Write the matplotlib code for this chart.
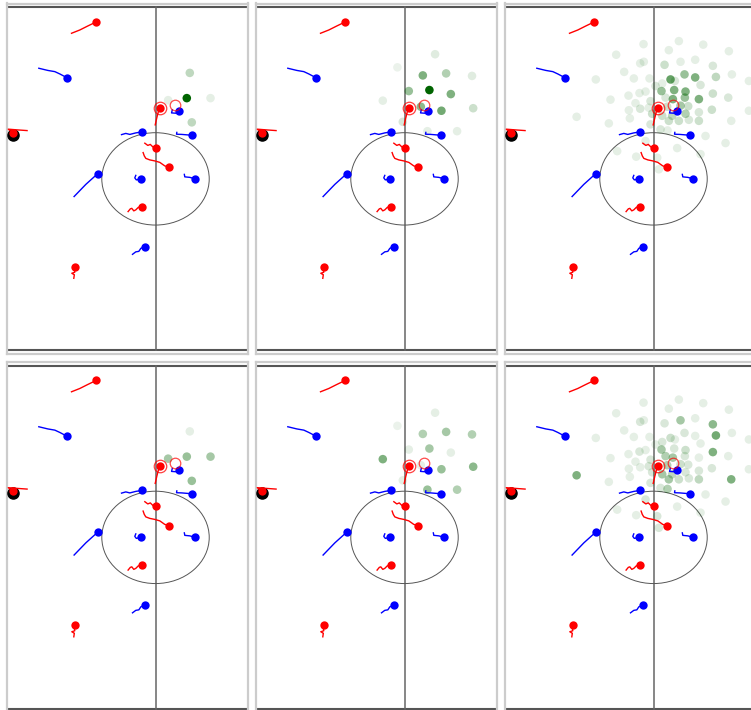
import matplotlib
matplotlib.use("Agg")
import matplotlib.pyplot as plt
from matplotlib.patches import Circle
from matplotlib.colors import to_rgba

# ---------------------------------------------------------------------------
# Tracking snapshot (metres, origin at the centre spot, y towards top touchline)
# Each trail lists older positions first; the last point is the current spot.
# ---------------------------------------------------------------------------
red_trails_x = [
    [-14.31, -12.90, -11.53, -10.10],
    [-0.05, 0.22, 0.48, 0.73],
    [-1.82, -1.31, -0.89, -0.46, 0.05],
    [-2.11, -1.91, -1.65, -0.97, -0.12, 0.73, 1.58, 2.32],
    [-4.67, -4.29, -4.04, -3.70, -3.36, -2.93, -2.28],
    [-13.92, -13.83, -14.26, -13.75, -13.83, -13.70],
    [-21.88, -23.46, -25.08, -24.36],
]
red_trails_y = [
    [28.85, 29.50, 30.30, 31.10],
    [10.70, 12.10, 13.30, 14.10],
    [7.07, 6.63, 6.83, 6.34, 6.14],
    [5.21, 4.55, 4.06, 3.76, 3.56, 3.27, 2.57, 2.32],
    [-6.48, -5.94, -5.84, -6.34, -6.14, -5.64, -5.54],
    [-19.70, -19.00, -18.70, -18.50, -18.00, -17.40],
    [9.57, 9.70, 9.85, 9.11],
]
blue_trails_x = [
    [-19.88, -18.35, -17.15, -16.30, -15.11],
    [2.86, 2.73, 3.46, 4.02],
    [-5.79, -5.06, -4.38, -3.36, -2.28],
    [3.63, 3.58, 4.48, 5.50, 6.30],
    [-13.87, -11.87, -9.83],
    [-3.36, -3.53, -3.27, -2.45],
    [4.91, 4.99, 5.84, 6.81],
    [-3.92, -3.36, -2.84, -2.50, -1.77],
]
blue_trails_y = [
    [21.92, 21.49, 21.25, 20.79, 20.06],
    [13.66, 13.07, 13.01, 13.41],
    [8.77, 9.01, 8.81, 9.11, 9.31],
    [9.21, 8.85, 8.81, 8.71, 8.65],
    [-3.50, -1.09, 1.05],
    [0.69, 0.20, -0.20, 0.00],
    [0.89, 0.40, 0.30, 0.00],
    [-14.95, -14.46, -14.36, -13.76, -13.41],
]
ball_x, ball_y = -24.20, 8.75
ring_x = [0.73, 3.30]
ring_y = [14.10, 14.65]

# Candidate positions, three sets (coarse, medium, fine)
cand_small_x = [5.84, 5.33, 9.37, 2.15, 6.18]
cand_small_y = [21.0, 16.0, 16.0, 15.6, 11.2]

cand_mid_x = [5.21, -1.21, 3.12, 7.09, 11.50, 0.73, 4.24, 7.89, -3.70, 2.78,
              6.29, 11.70, -0.29, 3.90, 8.96]
cand_mid_y = [24.7, 22.1, 20.5, 20.9, 20.4, 17.4, 17.6, 16.8, 15.5, 14.3,
              13.5, 14.0, 11.3, 9.45, 9.45]

cand_big_x = [-1.70, 4.32, 8.47, 12.84, 2.61, -6.36, -2.27, -1.65, 1.88, 4.60,
              7.10, 10.11, 13.35, -5.00, -9.83, -3.35, -0.68, 2.90, 5.28, 7.10,
              10.63, 16.25, 0.34, 1.48, 3.64, 8.01, -1.36, -2.39, 1.36, 3.52,
              5.45, 10.11, 12.73, -7.33, -4.26, -3.07, -0.51, 2.05, 3.30, 5.34,
              7.73, -2.27, -4.20, -0.80, 2.33, 4.60, 5.91, 9.94, 16.25, -13.10,
              -4.03, -0.23, 1.48, 3.18, 5.45, 7.73, 13.24, -7.61, -0.51, 2.61,
              4.32, 6.02, 7.73, 1.19, 2.39, 8.86, 12.27, -1.36, 4.03, -2.95,
              0.63, 8.01, 0.91, -6.19]
cand_big_y = [26.7, 27.3, 26.6, 25.3, 25.5, 24.6, 22.9, 23.2, 22.6, 23.2,
              23.6, 22.4, 20.7, 21.2, 19.7, 19.9, 19.9, 19.7, 20.7, 20.1,
              20.2, 19.4, 18.4, 18.9, 19.4, 18.6, 17.3, 17.0, 17.4, 17.6,
              17.3, 16.9, 16.1, 15.7, 16.5, 15.0, 15.4, 16.1, 15.8, 16.1,
              15.8, 13.9, 13.6, 14.1, 14.3, 14.5, 14.4, 13.7, 13.5, 12.3,
              12.0, 12.9, 12.5, 12.5, 12.9, 13.2, 11.5, 11.0, 10.8, 11.5,
              11.5, 11.7, 11.5, 9.8, 9.6, 8.5, 7.1, 7.5, 6.1, 4.4,
              4.2, 4.9, 1.9, 5.5]

# Weights per panel (top row, then bottom row)
w_top_small = [0.25, 1.0, 0.10, 0.10, 0.25]
w_top_mid = [0.12, 0.08, 0.50, 0.30, 0.12, 0.40, 1.0, 0.50, 0.10, 0.45,
             0.55, 0.20, 0.15, 0.10, 0.10]
w_top_big = [0.10, 0.10, 0.10, 0.10, 0.10, 0.10, 0.10, 0.10, 0.20, 0.10,
             0.10, 0.15, 0.10, 0.10, 0.10, 0.10, 0.10, 0.60, 0.40, 0.50,
             0.25, 0.10, 0.15, 0.10, 0.15, 0.15, 0.10, 0.10, 0.40, 0.50,
             0.50, 0.20, 0.15, 0.10, 0.10, 0.10, 0.15, 0.15, 0.50, 0.40,
             0.50, 0.15, 0.10, 0.10, 0.20, 0.35, 0.20, 0.20, 0.10, 0.10,
             0.10, 0.20, 0.20, 0.25, 0.30, 0.15, 0.10, 0.10, 0.15, 0.20,
             0.20, 0.15, 0.20, 0.15, 0.10, 0.10, 0.10, 0.10, 0.10, 0.10,
             0.10, 0.10, 0.10, 0.10]
w_bot_small = [0.10, 0.40, 0.35, 0.35, 0.40]
w_bot_mid = [0.10, 0.08, 0.30, 0.35, 0.30, 0.10, 0.35, 0.10, 0.50, 0.10,
             0.40, 0.45, 0.10, 0.40, 0.30]
w_bot_big = [0.10, 0.10, 0.10, 0.10, 0.10, 0.10, 0.15, 0.10, 0.15, 0.35,
             0.10, 0.45, 0.10, 0.10, 0.10, 0.10, 0.10, 0.20, 0.15, 0.10,
             0.55, 0.10, 0.10, 0.15, 0.10, 0.10, 0.10, 0.15, 0.35, 0.15,
             0.20, 0.50, 0.10, 0.10, 0.10, 0.10, 0.15, 0.30, 0.35, 0.15,
             0.10, 0.10, 0.10, 0.15, 0.30, 0.20, 0.15, 0.15, 0.10, 0.50,
             0.10, 0.15, 0.35, 0.25, 0.15, 0.15, 0.50, 0.10, 0.15, 0.35,
             0.20, 0.15, 0.25, 0.15, 0.30, 0.10, 0.10, 0.15, 0.10, 0.10,
             0.15, 0.10, 0.15, 0.10]

panels = [
    (cand_small_x, cand_small_y, w_top_small),
    (cand_mid_x, cand_mid_y, w_top_mid),
    (cand_big_x, cand_big_y, w_top_big),
    (cand_small_x, cand_small_y, w_bot_small),
    (cand_mid_x, cand_mid_y, w_bot_mid),
    (cand_big_x, cand_big_y, w_bot_big),
]

# ---------------------------------------------------------------------------
W, H = 751, 710
fig = plt.figure(figsize=(W / 100, H / 100), dpi=100)
fig.patch.set_facecolor("white")

PX_PER_M = 5.87
X_LEFT = -25.3
col_left = [7, 256, 505]
col_width = [241, 241, 262]
row_top = [3.5, 362]
ax_h = 350

DOT = 6.0
LINE_CLR = "#555555"


def draw_panel(ax, width_px, cx, cy, w):
    ax.set_xlim(X_LEFT, X_LEFT + width_px / PX_PER_M)
    ax.set_ylim(-34.6, 34.75)
    ax.set_xticks([])
    ax.set_yticks([])
    for sp in ax.spines.values():
        sp.set_color("#cccccc")
        sp.set_linewidth(1.6)

    # pitch markings
    ax.plot([-60, 60], [34, 34], color=LINE_CLR, lw=1.5, zorder=1)
    ax.plot([-60, 60], [-34, -34], color=LINE_CLR, lw=1.5, zorder=1)
    ax.plot([0, 0], [-34, 34], color="#666666", lw=1.1, zorder=1)
    ax.add_patch(Circle((0, 0), 9.15, fill=False, ec=LINE_CLR, lw=0.7, zorder=1))

    # candidate positions shaded by weight
    cols = [to_rgba("darkgreen", a) for a in w]
    ax.scatter(cx, cy, s=38, c=cols, edgecolors="none", zorder=2)

    # ball underneath the keeper
    ax.plot(ball_x, ball_y, "o", color="black", ms=8.0, zorder=3)

    for tx, ty in zip(red_trails_x, red_trails_y):
        ax.plot(tx, ty, color="red", lw=1.0, zorder=4)
        ax.plot(tx[-1], ty[-1], "o", color="red", ms=DOT, mec="none", zorder=5)
    for tx, ty in zip(blue_trails_x, blue_trails_y):
        ax.plot(tx, ty, color="blue", lw=1.0, zorder=4)
        ax.plot(tx[-1], ty[-1], "o", color="blue", ms=DOT, mec="none", zorder=5)

    ax.plot(ring_x[0], ring_y[0], "o", mfc="none", mec="red", ms=9.0, mew=0.9,
            alpha=0.75, zorder=6)
    ax.plot(ring_x[1], ring_y[1], "o", mfc="none", mec="red", ms=7.6, mew=0.9,
            alpha=0.7, zorder=6)


for i, (cx, cy, w) in enumerate(panels):
    r, c = divmod(i, 3)
    l = col_left[c]
    t = row_top[r]
    wpx = col_width[c]
    ax = fig.add_axes([l / W, 1 - (t + ax_h) / H, wpx / W, ax_h / H])
    draw_panel(ax, wpx, cx, cy, w)

fig.savefig("out.png", dpi=100, facecolor="white")
